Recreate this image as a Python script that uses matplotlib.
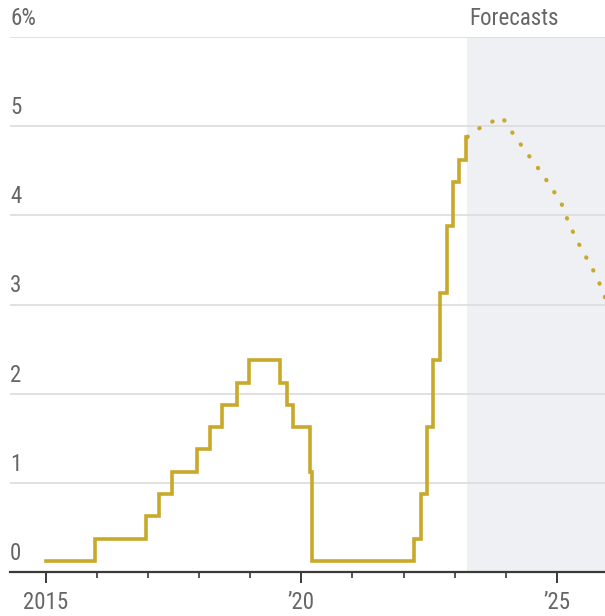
import matplotlib
matplotlib.use("Agg")
import matplotlib.pyplot as plt
from matplotlib import font_manager

# pick a narrow face if the box has one
names = {f.name for f in font_manager.fontManager.ttflist}
family = "DejaVu Sans"
for cand in ["Liberation Sans Narrow", "Roboto Condensed", "Open Sans Condensed", "DejaVu Sans Condensed"]:
    if cand in names:
        family = cand
        break
plt.rcParams["font.family"] = [family, "DejaVu Sans"]

# fed funds target (midpoint), decimal years
rate_dates = [2015.0, 2015.96, 2016.96, 2017.21, 2017.46, 2017.96, 2018.22, 2018.45,
              2018.74, 2018.97, 2019.58, 2019.72, 2019.83, 2020.17, 2020.21, 2022.21,
              2022.34, 2022.46, 2022.57, 2022.72, 2022.84, 2022.96, 2023.09, 2023.22,
              2023.25]
rate_values = [0.125, 0.375, 0.625, 0.875, 1.125, 1.375, 1.625, 1.875,
               2.125, 2.375, 2.125, 1.875, 1.625, 1.125, 0.125, 0.375,
               0.875, 1.625, 2.375, 3.125, 3.875, 4.375, 4.625, 4.875,
               4.875]

# forecast path
fc_dates = [2023.25, 2023.40, 2023.65, 2023.93, 2024.16, 2024.41, 2024.63, 2024.86,
            2025.09, 2025.22, 2025.39, 2025.58, 2025.78, 2025.94]
fc_values = [4.88, 4.95, 5.03, 5.10, 4.90, 4.70, 4.53, 4.34,
             4.13, 3.93, 3.72, 3.52, 3.31, 3.08]

forecast_start = 2023.25
y_ticks = [0, 1, 2, 3, 4, 5, 6]
y_labels = ["0", "1", "2", "3", "4", "5", "6%"]
x_major = [2015, 2020, 2025]
x_labels = ["2015", "\u201920", "\u201925"]
x_minor = list(range(2016, 2025))

gold = "#c8a92a"
grey_text = "#666666"

fig = plt.figure(figsize=(6.05, 6.16), dpi=100)
ax = fig.add_axes([10 / 605, 44 / 616, 595 / 605, 535 / 616])
ax.set_xlim(2014.3, 2025.94)
ax.set_ylim(0, 6)

ax.axvspan(forecast_start, 2025.94, ymin=0, ymax=1, color="#eef0f3", zorder=0, lw=0)
for v in y_ticks[1:]:
    ax.axhline(v, color="#dedede", lw=1.3, zorder=1)

ax.plot(rate_dates, rate_values, drawstyle="steps-post", color=gold, lw=2.6,
        solid_joinstyle="miter", zorder=3, clip_on=False)
ax.plot(fc_dates, fc_values, color=gold, lw=3.0, linestyle=(0, (0.1, 3.4)),
        dash_capstyle="round", zorder=3, clip_on=False)

for spine in ["top", "right", "left"]:
    ax.spines[spine].set_visible(False)
ax.spines["bottom"].set_color("#3a3a3a")
ax.spines["bottom"].set_linewidth(1.6)
ax.spines["bottom"].set_zorder(4)

ax.set_xticks(x_major)
ax.set_xticklabels(x_labels)
ax.set_xticks(x_minor, minor=True)
ax.tick_params(axis="x", which="major", length=8, width=1.4, color="#3a3a3a",
               labelsize=16.5, labelcolor=grey_text, pad=6)
ax.tick_params(axis="x", which="minor", length=4, width=1.2, color="#3a3a3a")

ax.set_yticks([])
for v, lab in zip(y_ticks, y_labels):
    ax.text(0.0, v + 0.08, lab, transform=ax.get_yaxis_transform(),
            ha="left", va="bottom", fontsize=16.5, color=grey_text)

ax.text(forecast_start + 0.03, 6.08, "Forecasts", ha="left", va="bottom",
        fontsize=16.5, color=grey_text)

fig.savefig("out.png", dpi=100)
